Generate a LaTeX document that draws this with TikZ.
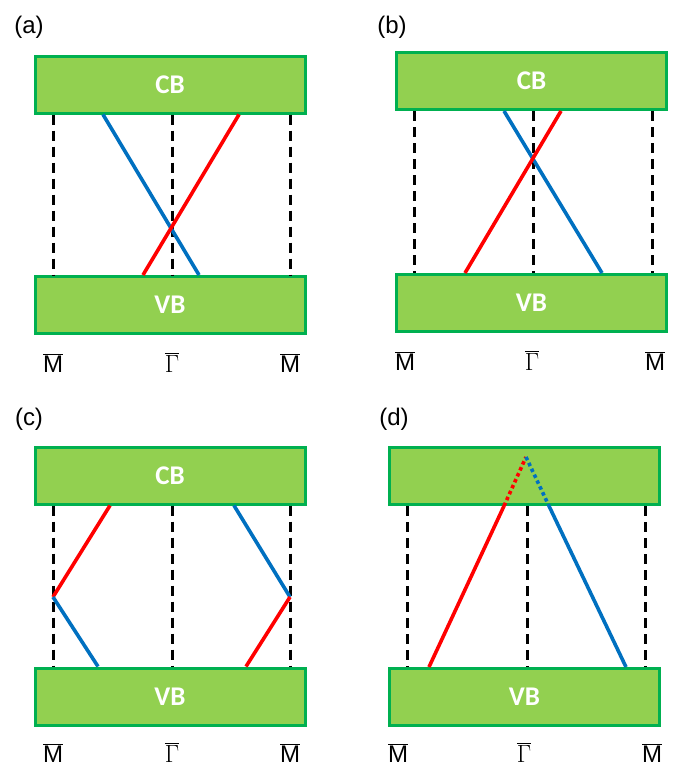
\documentclass[tikz,border=0pt]{standalone}
\usepackage{fontspec}
\setmainfont{Liberation Sans}
\newfontfamily\bandfont{Carlito}
\usetikzlibrary{positioning}

\definecolor{bandfill}{HTML}{92D050}
\definecolor{bandedge}{HTML}{00B050}
\definecolor{bandred}{HTML}{FF0000}
\definecolor{bandblue}{HTML}{0070C0}

\newcommand{\Mbar}{$\overline{\mbox{M}}$}
\newcommand{\Gbar}{$\overline{\Gamma}$}

\begin{document}
\begin{tikzpicture}[
    x=1pt, y=-1pt,
    band/.style={draw=bandedge, fill=bandfill, line width=3pt, minimum width=270pt, minimum height=57pt, inner sep=0pt, text=white, font=\bandfont\bfseries\fontsize{27}{27}\selectfont},
    kline/.style={draw=black, line width=3pt, dash pattern=on 10pt off 6pt},
    rline/.style={draw=bandred, line width=3.6pt},
    bline/.style={draw=bandblue, line width=3.6pt},
    dotline/.style={line width=3.6pt, dash pattern=on 3.5pt off 3pt},
    kpt/.style={anchor=base, inner sep=0pt, font=\fontsize{24}{24}\selectfont},
    tag/.style={inner sep=0pt, font=\fontsize{24}{24}\selectfont}
]
\useasboundingbox (0,0) rectangle (680,766);

% Panel (a)
\node[tag] (tag-a) at (29,27) {(a)};
\node[band] (CBa) at (170,84.5) {CB};
\node[band] (VBa) at (170,305) {VB};
\node[kpt] (Ma1) at (53,372) {\Mbar};
\node[kpt] (Ga) at (172,372) {\Gbar};
\node[kpt] (Ma2) at (290,372) {\Mbar};
\foreach \k in {Ma1,Ga,Ma2}
  \draw[kline] (CBa.south -| \k) -- (VBa.north -| \k);
\draw[bline] (CBa.south -| 103,0) -- (VBa.north -| 199,0);
\draw[rline] (VBa.north -| 143,0) -- (CBa.south -| 239,0);

% Panel (b)
\node[tag] (tag-b) at (392,27) {(b)};
\node[band] (CBb) at (531.5,81) {CB};
\node[band] (VBb) at (531.5,303) {VB};
\node[kpt] (Mb1) at (405,370) {\Mbar};
\node[kpt] (Gb) at (532,370) {\Gbar};
\node[kpt] (Mb2) at (655,370) {\Mbar};
\foreach \x in {414,533,652}
  \draw[kline] (CBb.south -| \x,0) -- (VBb.north -| \x,0);
\draw[bline] (CBb.south -| 504,0) -- (VBb.north -| 602,0);
\draw[rline] (VBb.north -| 465,0) -- (CBb.south -| 561,0);

% Panel (c)
\node[tag] (tag-c) at (29,419) {(c)};
\node[band] (CBc) at (170,475.5) {CB};
\node[band] (VBc) at (170,696.5) {VB};
\node[kpt] (Mc1) at (53,762) {\Mbar};
\node[kpt] (Gc) at (172,762) {\Gbar};
\node[kpt] (Mc2) at (290,762) {\Mbar};
\foreach \k in {Mc1,Gc,Mc2}
  \draw[kline] (CBc.south -| \k) -- (VBc.north -| \k);
\coordinate (c-left) at (53,597);
\coordinate (c-right) at (290,597);
\draw[rline] (c-left) -- (CBc.south -| 110,0);
\draw[bline] (c-left) -- (VBc.north -| 98,0);
\draw[bline] (CBc.south -| 234,0) -- (c-right);
\draw[rline] (c-right) -- (VBc.north -| 246,0);

% Panel (d)
\node[tag] (tag-d) at (394,419) {(d)};
\node[band] (CBd) at (524.5,476) {};
\node[band] (VBd) at (524.5,697) {VB};
\node[kpt] (Md1) at (398,762) {\Mbar};
\node[kpt] (Gd) at (524,762) {\Gbar};
\node[kpt] (Md2) at (652,762) {\Mbar};
\foreach \x in {407,527,645}
  \draw[kline] (CBd.south -| \x,0) -- (VBd.north -| \x,0);
\coordinate (d-apex) at (526,457);
\draw[rline] (VBd.north -| 429,0) -- (CBd.south -| 504,0);
\draw[rline, dotline] (CBd.south -| 504,0) -- (d-apex);
\draw[bline, dotline] (d-apex) -- (CBd.south -| 549,0);
\draw[bline] (CBd.south -| 549,0) -- (VBd.north -| 626,0);

\end{tikzpicture}
\end{document}
